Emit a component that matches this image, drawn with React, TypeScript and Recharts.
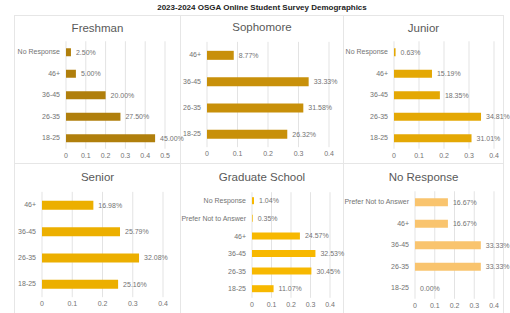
import { BarChart, Bar, XAxis, YAxis, CartesianGrid, LabelList } from 'recharts';

const freshmanCats = ['No Response', '46+', '36-45', '26-35', '18-25'];
const freshmanVals = [0.025, 0.05, 0.2, 0.275, 0.45];

const sophomoreCats = ['46+', '36-45', '26-35', '18-25'];
const sophomoreVals = [0.0877, 0.3333, 0.3158, 0.2632];

const juniorCats = ['No Response', '46+', '36-45', '26-35', '18-25'];
const juniorVals = [0.0063, 0.1519, 0.1835, 0.3481, 0.3101];

const seniorCats = ['46+', '36-45', '26-35', '18-25'];
const seniorVals = [0.1698, 0.2579, 0.3208, 0.2516];

const gradCats = ['No Response', 'Prefer Not to Answer', '46+', '36-45', '26-35', '18-25'];
const gradVals = [0.0104, 0.0035, 0.2457, 0.3253, 0.3045, 0.1107];

const noRespCats = ['Prefer Not to Answer', '46+', '36-45', '26-35', '18-25'];
const noRespVals = [0.1667, 0.1667, 0.3333, 0.3333, 0];

const ticks05 = [0, 0.1, 0.2, 0.3, 0.4, 0.5];
const ticks04 = [0, 0.1, 0.2, 0.3, 0.4];

const FONT = '"Liberation Sans", Arial, sans-serif';
const TXT = '#737373';
const EXTRA = 30; // room to the right of the plot for value labels

interface PanelProps {
  title: string;
  cats: string[];
  vals: number[];
  ticks: number[];
  color: string;
  left: number;
  top: number;
  width: number;
  height: number;
  x0: number;
  x1: number;
  firstY: number;
  lastY: number;
  titleY: number;
  barSize: number;
}

// category labels on one line, right aligned
const CatTick = (props: any) => {
  const { x, y, payload } = props;
  return (
    <text x={x} y={y} dy="0.35em" textAnchor="end" fontSize={7} fill={TXT} fontFamily={FONT}>
      {payload.value}
    </text>
  );
};

const ValueLabel = (props: any) => {
  const { x, y, width, height, value, viewBox } = props;
  const bx = Number(x ?? viewBox?.x ?? 0);
  const by = Number(y ?? viewBox?.y ?? 0);
  const bw = Number(width ?? viewBox?.width ?? 0) || 0;
  const bh = Number(height ?? viewBox?.height ?? 0) || 0;
  return (
    <text x={bx + bw + 5} y={by + bh / 2} dy="0.35em" fontSize={7} fill={TXT} fontFamily={FONT}>
      {`${(Number(value) * 100).toFixed(2)}%`}
    </text>
  );
};

function Panel(p: PanelProps) {
  const data = p.cats.map((c, i) => ({ cat: c, value: p.vals[i] }));
  const band = (p.lastY - p.firstY) / (p.cats.length - 1);
  const plotTop = p.firstY - band / 2;
  const plotBottom = p.lastY + band / 2;
  const max = p.ticks[p.ticks.length - 1];
  const chartW = p.x1 - p.left + EXTRA;
  return (
    <>
      <div
        style={{
          position: 'absolute',
          left: p.left,
          width: p.width,
          top: p.titleY - 8,
          textAlign: 'center',
          fontSize: 11.5,
          color: '#595959',
          fontFamily: FONT,
          lineHeight: '16px',
        }}
      >
        {p.title}
      </div>
      <div style={{ position: 'absolute', left: p.left, top: p.top }}>
        <BarChart
          width={chartW}
          height={p.height}
          data={data}
          layout="vertical"
          margin={{ top: plotTop - p.top, right: EXTRA, bottom: 0, left: 0 }}
          barCategoryGap={0}
        >
          <CartesianGrid horizontal={false} stroke="#e3e3e3" />
          <XAxis
            type="number"
            domain={[0, max]}
            ticks={p.ticks}
            axisLine={false}
            tickLine={false}
            tickSize={0}
            tickMargin={4}
            height={p.top + p.height - plotBottom}
            tick={{ fontSize: 7, fill: TXT, fontFamily: FONT }}
            interval={0}
          />
          <YAxis
            type="category"
            dataKey="cat"
            width={p.x0 - p.left}
            axisLine={false}
            tickLine={false}
            tickSize={0}
            tickMargin={6}
            tick={<CatTick />}
            interval={0}
          />
          <Bar dataKey="value" fill={p.color} barSize={p.barSize} minPointSize={0.01} isAnimationActive={false}>
            <LabelList dataKey="value" content={<ValueLabel />} />
          </Bar>
        </BarChart>
      </div>
    </>
  );
}

const lineColor = '#e6e6e6';

export default function App() {
  return (
    <div
      style={{
        position: 'absolute',
        left: 0,
        top: 0,
        width: 510,
        height: 313,
        background: '#fff',
        overflow: 'hidden',
        fontFamily: FONT,
      }}
    >
      <div
        style={{
          position: 'absolute',
          left: 0,
          width: 524,
          top: 2,
          textAlign: 'center',
          fontSize: 8,
          fontWeight: 'bold',
          color: '#222',
          lineHeight: '12px',
        }}
      >
        2023-2024 OSGA Online Student Survey Demographics
      </div>
      {/* panel frame */}
      <div style={{ position: 'absolute', left: 14, top: 15, width: 489, height: 1, background: lineColor }} />
      <div style={{ position: 'absolute', left: 14, top: 163, width: 489, height: 1, background: lineColor }} />
      {[14, 180, 343, 503].map((x) => (
        <div key={x} style={{ position: 'absolute', left: x, top: 15, width: 1, height: 298, background: lineColor }} />
      ))}

      <Panel title="Freshman" cats={freshmanCats} vals={freshmanVals} ticks={ticks05} color="#b07f0c"
        left={15} top={16} width={165} height={146} x0={66} x1={165} firstY={52} lastY={138} titleY={28} barSize={8} />
      <Panel title="Sophomore" cats={sophomoreCats} vals={sophomoreVals} ticks={ticks04} color="#c8900a"
        left={181} top={16} width={162} height={146} x0={207} x1={329} firstY={55} lastY={134} titleY={27} barSize={9} />
      <Panel title="Junior" cats={juniorCats} vals={juniorVals} ticks={ticks04} color="#e4a804"
        left={344} top={16} width={159} height={146} x0={394} x1={494} firstY={52} lastY={138} titleY={28} barSize={8} />
      <Panel title="Senior" cats={seniorCats} vals={seniorVals} ticks={ticks04} color="#ecaf00"
        left={15} top={164} width={165} height={149} x0={42} x1={163} firstY={205} lastY={284} titleY={177} barSize={9} />
      <Panel title="Graduate School" cats={gradCats} vals={gradVals} ticks={ticks04} color="#f7b800"
        left={181} top={164} width={162} height={149} x0={252} x1={330} firstY={201} lastY={289} titleY={177} barSize={7} />
      <Panel title="No Response" cats={noRespCats} vals={noRespVals} ticks={ticks04} color="#f9c46e"
        left={344} top={164} width={159} height={149} x0={415} x1={494} firstY={202} lastY={288} titleY={177} barSize={8} />
    </div>
  );
}
